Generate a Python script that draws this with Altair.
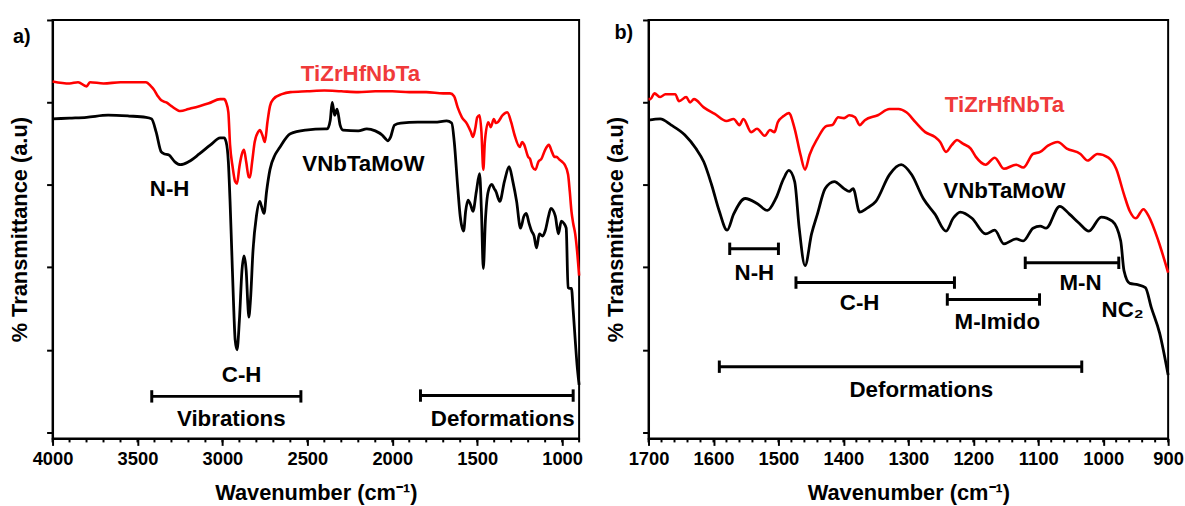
import altair as alt
import pandas as pd

FONT = "Liberation Sans"
RED = "#ff0000"
RED_TEXT = "#f03a3a"

# ---------------- Panel a (4000-900 cm-1) ----------------
a_red_wn = [4000, 3900, 3850, 3800, 3780, 3700, 3600, 3500, 3450, 3420, 3405, 3380, 3360, 3330, 3300,
            3247, 3200, 3136, 3080, 3013, 2990, 2978, 2965, 2955, 2940, 2925, 2914, 2900, 2885, 2873,
            2860, 2845, 2838, 2825, 2810, 2790, 2780, 2765, 2750, 2735, 2720, 2700, 2650, 2600, 2500,
            2400, 2300, 2200, 2100, 2000, 1900, 1800, 1700, 1660, 1636, 1615, 1590, 1560, 1537, 1525,
            1510, 1500, 1486, 1475, 1464, 1455, 1435, 1420, 1402, 1390, 1379, 1350, 1323, 1300, 1280,
            1250, 1235, 1223, 1200, 1189, 1175, 1157, 1140, 1122, 1100, 1078, 1060, 1045, 1034, 1015,
            1000, 985, 965, 955, 945, 935, 923, 912, 900]
a_red_t = [85.1, 84.6, 84.9, 83.9, 84.9, 84.6, 84.9, 84.9, 84.9, 83.9, 83.2, 81.5, 80.5, 80.0, 79.1,
           77.9, 78.4, 79.1, 79.8, 80.8, 80.8, 80.0, 77.6, 69.7, 64.4, 60.8, 60.3, 64.4, 67.5, 68.5,
           65.6, 61.9, 61.8, 65.6, 70.4, 72.8, 73.3, 72.1, 70.4, 75.2, 79.1, 80.8, 82.0, 82.5, 82.7,
           82.9, 82.7, 82.5, 82.7, 82.7, 82.5, 82.5, 82.2, 82.2, 81.5, 78.8, 76.4, 74.8, 72.8, 71.6,
           74.0, 76.4, 76.9, 72.8, 63.7, 70.4, 75.2, 74.0, 76.0, 75.0, 75.2, 76.9, 77.6, 75.2, 72.1,
           69.2, 70.4, 69.7, 66.8, 66.3, 64.4, 63.7, 65.6, 66.3, 68.5, 69.7, 68.0, 66.8, 66.8, 66.1,
           65.6, 64.9, 62.5, 58.4, 53.6, 50.7, 48.1, 44.0, 38.0]

a_blk_wn = [4000, 3900, 3800, 3673, 3550, 3450, 3417, 3390, 3360, 3340, 3317, 3280, 3247, 3200, 3136,
            3070, 3013, 2990, 2978, 2965, 2955, 2945, 2935, 2925, 2914, 2900, 2885, 2873, 2860, 2850,
            2845, 2835, 2820, 2800, 2780, 2770, 2755, 2740, 2720, 2690, 2667, 2600, 2510, 2395, 2383,
            2365, 2354, 2345, 2339, 2325, 2307, 2290, 2200, 2150, 2100, 2060, 2040, 2027, 2010, 1987,
            1950, 1850, 1750, 1680, 1650, 1635, 1615, 1600, 1580, 1568, 1554, 1540, 1525, 1505, 1486,
            1475, 1464, 1452, 1435, 1414, 1400, 1390, 1367, 1340, 1312, 1290, 1268, 1245, 1225, 1211,
            1195, 1180, 1165, 1151, 1134, 1115, 1100, 1080, 1066, 1040, 1022, 1005, 990, 976, 965,
            955, 945, 935, 923, 912, 900]
a_blk_t = [76.0, 76.2, 76.4, 76.9, 76.7, 76.4, 76.0, 72.8, 68.0, 67.5, 67.3, 65.6, 64.9, 65.6, 67.5,
           69.7, 71.4, 71.4, 70.4, 65.6, 56.0, 44.0, 31.9, 22.4, 20.0, 27.2, 39.2, 42.8, 39.2, 30.8,
           27.9, 31.9, 44.0, 52.4, 56.0, 54.8, 53.1, 58.4, 63.7, 67.3, 68.8, 72.4, 73.3, 73.6, 73.6,
           75.7, 80.0, 78.1, 76.9, 78.4, 74.5, 73.3, 73.1, 73.6, 73.1, 72.1, 71.2, 70.7, 71.6, 74.5,
           75.0, 75.2, 75.2, 75.5, 75.0, 70.4, 59.6, 52.4, 48.8, 53.6, 56.3, 55.3, 53.6, 58.4, 62.7,
           53.6, 39.7, 51.2, 58.4, 60.1, 59.1, 58.4, 56.0, 60.8, 64.4, 60.8, 56.0, 49.5, 52.4, 53.1,
           50.7, 48.8, 47.6, 44.7, 48.1, 47.6, 48.8, 52.4, 54.3, 52.4, 48.1, 51.2, 50.7, 49.5, 35.1,
           34.9, 34.9, 29.6, 22.4, 16.3, 11.5]

a_brk_start = [3416, 1834]
a_brk_end = [2538, 935]
a_brk_level = [8.7, 8.9]
a_text_lbl = ["VNbTaMoW", "N-H", "C-H", "Vibrations", "Deformations"]
a_text_wn = [2170, 3311, 2887, 2948, 1350]
a_text_t = [65.1, 59.1, 13.9, 3.1, 3.1]
a_red_lbl = ["TiZrHfNbTa"]
a_red_lbl_wn = [2187]
a_red_lbl_t = [86.8]

# ---------------- Panel b (1700-900 cm-1) ----------------
b_red_wn = [1700, 1697, 1691, 1682, 1674, 1659, 1653, 1642, 1636, 1630, 1615, 1598, 1580, 1569, 1560,
            1554, 1542, 1533, 1521, 1513, 1506, 1501, 1492, 1484, 1475, 1466, 1459, 1452, 1440, 1426,
            1417, 1408, 1399, 1391, 1382, 1375, 1367, 1347, 1329, 1315, 1303, 1289, 1274, 1259, 1251,
            1242, 1233, 1225, 1216, 1204, 1196, 1181, 1167, 1153, 1134, 1123, 1108, 1097, 1085, 1070,
            1056, 1035, 1024, 1009, 992, 980, 968, 959, 950, 938, 930, 915, 900]
b_red_t = [80.8, 80.8, 82.2, 81.3, 82.0, 82.0, 80.3, 81.3, 80.0, 80.8, 78.8, 77.2, 75.5, 76.0, 74.5,
           76.0, 72.8, 73.6, 71.9, 73.3, 72.8, 75.2, 76.7, 77.4, 73.6, 67.3, 63.7, 67.3, 71.2, 74.3,
           74.5, 76.4, 76.2, 76.9, 76.4, 74.5, 75.7, 76.9, 78.4, 78.4, 77.6, 75.2, 72.8, 71.6, 70.4,
           68.0, 69.7, 70.9, 70.0, 68.8, 66.8, 64.9, 66.6, 63.9, 64.9, 64.2, 67.5, 68.0, 69.5, 70.4,
           68.8, 67.5, 65.9, 67.5, 66.6, 63.9, 57.7, 53.6, 51.9, 54.1, 52.4, 46.4, 38.7]

b_blk_wn = [1700, 1682, 1665, 1644, 1627, 1615, 1603, 1591, 1579, 1569, 1551, 1533, 1517, 1504, 1492,
            1484, 1475, 1468, 1459, 1449, 1440, 1428, 1414, 1399, 1391, 1385, 1375, 1364, 1350, 1329,
            1311, 1295, 1277, 1259, 1242, 1231, 1220, 1202, 1181, 1167, 1153, 1134, 1123, 1108, 1097,
            1088, 1067, 1052, 1037, 1022, 1003, 986, 973, 968, 959, 947, 935, 926, 913, 900]
b_blk_t = [75.7, 76.0, 74.5, 72.1, 68.8, 65.6, 60.1, 53.6, 49.0, 52.9, 56.7, 55.5, 53.8, 56.7, 61.5,
           63.5, 60.8, 49.5, 40.4, 48.1, 52.9, 59.1, 60.8, 59.1, 58.4, 59.1, 53.4, 54.3, 56.0, 62.5,
           64.9, 62.5, 56.7, 52.9, 48.8, 51.9, 53.4, 51.9, 48.1, 49.0, 45.7, 46.9, 46.4, 49.5, 50.0,
           49.5, 54.8, 52.9, 50.7, 48.8, 52.2, 51.2, 46.4, 39.2, 36.1, 35.8, 35.1, 30.3, 24.0, 13.9]

b_brk_start = [1575, 1473, 1240, 1120, 1591]
b_brk_end = [1500, 1229, 1098, 976, 1033]
b_brk_level = [44.5, 36.3, 32.2, 41.1, 15.9]
b_text_lbl = ["VNbTaMoW", "N-H", "C-H", "M-Imido", "M-N", "NC\u2082", "Deformations"]
b_text_wn = [1152, 1537, 1375, 1163, 1035, 970, 1280]
b_text_t = [58.4, 38.5, 31.3, 26.7, 36.1, 29.6, 10.3]
b_red_lbl = ["TiZrHfNbTa"]
b_red_lbl_wn = [1152]
b_red_lbl_t = [79.3]

Y_TICKS = [0, 20, 40, 60, 80, 100]
H = 422
ANN = 22.5

AXIS_STYLE = dict(domainColor="black", domainWidth=2, tickColor="black", tickWidth=2, grid=False,
                  labelFont=FONT, labelFontSize=18.5, labelFontWeight="bold", labelColor="black",
                  titleFont=FONT, titleFontSize=22, titleFontWeight="bold", titleColor="black")


def panel(xmin, xmax, major, minor, width, red_w, red_t, blk_w, blk_t,
          bs, be, bl, tl, tw, tt, rl, rw, rt, plabel, pdx, pdy):
    xs = alt.Scale(domain=[xmin, xmax], reverse=True, nice=False, zero=False)
    xa = alt.Axis(values=major, format="d", title="Wavenumber (cm\u207b\u00b9)", tickSize=7,
                  labelPadding=4, titlePadding=15, labelFlush=False, labelOverlap=False,
                  **AXIS_STYLE)
    ys = alt.Scale(domain=[-1.5, 100], nice=False, zero=False)
    ya = alt.Axis(values=Y_TICKS, labels=False, title="% Transmittance (a.u)", tickSize=6,
                  titlePadding=14, **AXIS_STYLE)

    def X(f):
        return alt.X(f, type="quantitative", scale=xs, axis=xa)

    def Y(f):
        return alt.Y(f, type="quantitative", scale=ys, axis=ya)

    red = alt.Chart(pd.DataFrame({"w": red_w, "t": red_t})).mark_line(
        color=RED, strokeWidth=2.6, interpolate="monotone").encode(x=X("w"), y=Y("t"))
    blk = alt.Chart(pd.DataFrame({"w": blk_w, "t": blk_t})).mark_line(
        color="black", strokeWidth=2.8, interpolate="monotone").encode(x=X("w"), y=Y("t"))

    minor_df = pd.DataFrame({"w": minor})
    minors = alt.Chart(minor_df).mark_rule(color="black", strokeWidth=2).encode(
        x=X("w"), y=alt.value(H), y2=alt.value(H + 4))

    bdf = pd.DataFrame({"s": bs, "e": be, "lv": bl})
    bars = alt.Chart(bdf).mark_rule(color="black", strokeWidth=3).encode(
        x=X("s"), x2="e", y=Y("lv"))
    cap_w = bs + be
    cap_l = bl + bl
    cdf = pd.DataFrame({"w": cap_w, "lv": cap_l})
    caps = alt.Chart(cdf).transform_calculate(
        lo="datum.lv - 1.5", hi="datum.lv + 1.5").mark_rule(color="black", strokeWidth=3).encode(
        x=X("w"), y=Y("lo:Q"), y2="hi:Q")

    tdf = pd.DataFrame({"w": tw, "t": tt, "lab": tl})
    texts = alt.Chart(tdf).mark_text(font=FONT, fontSize=ANN, fontWeight="bold", color="black",
                                     baseline="middle", align="center").encode(
        x=X("w"), y=Y("t"), text="lab:N")
    rdf = pd.DataFrame({"w": rw, "t": rt, "lab": rl})
    rtexts = alt.Chart(rdf).mark_text(font=FONT, fontSize=ANN, fontWeight="bold", color=RED_TEXT,
                                      baseline="middle", align="center").encode(
        x=X("w"), y=Y("t"), text="lab:N")
    plab = alt.Chart(pd.DataFrame({"lab": [plabel]})).mark_text(
        font=FONT, fontSize=20, fontWeight="bold", color="black", align="center",
        baseline="middle").encode(x=alt.value(pdx), y=alt.value(pdy), text="lab:N")

    return alt.layer(red, blk, minors, bars, caps, texts, rtexts, plab).properties(
        width=width, height=H)


pa = panel(900, 4000, list(range(1000, 4001, 500)), list(range(900, 4001, 100)), 531,
           a_red_wn, a_red_t, a_blk_wn, a_blk_t, a_brk_start, a_brk_end, a_brk_level,
           a_text_lbl, a_text_wn, a_text_t, a_red_lbl, a_red_lbl_wn, a_red_lbl_t, "a)", -31, 17)
pb = panel(900, 1700, list(range(900, 1701, 100)), list(range(900, 1701, 20)), 524,
           b_red_wn, b_red_t, b_blk_wn, b_blk_t, b_brk_start, b_brk_end, b_brk_level,
           b_text_lbl, b_text_wn, b_text_t, b_red_lbl, b_red_lbl_wn, b_red_lbl_t, "b)", -25, 13)

chart = alt.hconcat(pa, pb, spacing=18).properties(
    padding={"left": 8, "top": 16, "right": 0, "bottom": 0}, background="white"
).configure_view(stroke="black", strokeWidth=2)

chart.save("out.html", embed_options={"renderer": "svg", "actions": False})
